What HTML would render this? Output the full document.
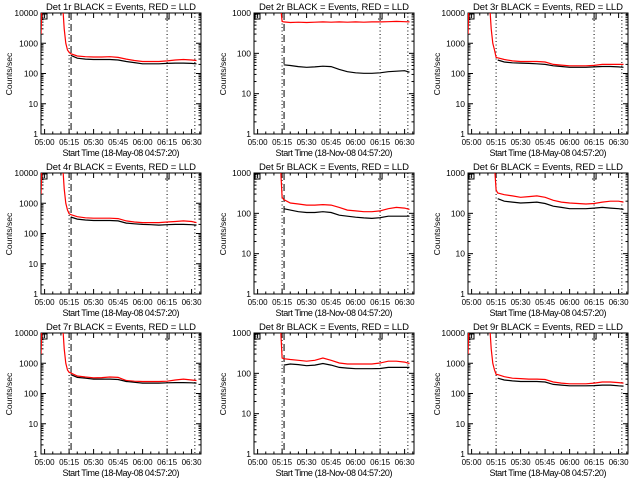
<!DOCTYPE html>
<html><head><meta charset="utf-8"><style>
html,body{margin:0;padding:0;background:#fff;}
svg{display:block;font-family:"Liberation Sans",sans-serif;}
</style></head><body>
<svg id="c" width="640" height="480" viewBox="0 0 640 480"></svg>
<script>
const times = [15,16,20,25,30,35,40,45,50,55,60,65,70,75,80,85,90,93];
const leadTimes = [-2.2,-1.6,11,12,13,14];
const detectorNames = ["1r","2r","3r","4r","5r","6r","7r","8r","9r"];
const dateLabels = ["18-May-08","18-Nov-08","18-May-08","18-May-08","18-Nov-08","18-May-08","18-May-08","18-Nov-08","18-May-08"];
const decades = [4,3,4,4,3,3,4,3,4];
const leadRed4 = [2000,20000,20000,3000,1000,600];
const leadRed3 = [20000,20000,20000,20000,20000,1500];
const red1 = [500,450,380,360,350,350,360,340,300,270,250,250,250,260,280,290,280,270];
const black1 = [400,320,300,290,290,290,280,250,230,210,210,210,215,220,220,215,210];
const red2 = [620,600,580,590,580,590,600,590,600,590,600,590,600,600,610,620,610,600];
const black2 = [52,50,47,45,46,48,47,40,35,33,32,32,33,35,36,37,34];
const red3 = [340,330,290,260,250,250,250,240,200,190,180,180,180,185,200,200,200,200];
const black3 = [280,240,225,220,215,210,200,180,170,160,160,160,165,170,170,165,160];
const red4 = [450,420,360,330,320,320,320,310,260,240,230,230,230,240,250,260,250,230];
const black4 = [350,300,280,270,270,270,260,220,210,200,195,190,195,200,200,195,190];
const red5 = [250,220,180,170,160,160,165,160,140,120,115,110,110,115,130,140,135,125];
const black5 = [130,120,110,105,105,110,105,90,85,80,77,75,78,85,85,85,85];
const red6 = [380,320,290,270,250,260,270,250,210,190,180,175,170,175,190,200,200,190];
const black6 = [230,200,190,180,185,190,175,150,140,130,130,130,135,140,135,130,125];
const red7 = [500,480,380,350,330,335,350,340,270,255,250,250,250,255,280,300,280,270];
const black7 = [420,340,320,300,300,300,290,250,235,220,220,220,225,230,230,225,220];
const red8 = [240,230,220,210,200,210,240,210,180,170,170,170,170,180,200,200,190,175];
const black8 = [160,170,165,155,160,175,160,140,135,130,130,130,132,140,140,140,140];
const red9 = [430,420,360,320,310,300,300,290,240,220,210,210,210,220,240,240,230,220];
const black9 = [320,280,260,250,250,250,240,200,190,180,180,180,182,190,190,180,175];
const xTickLabels = ["05:00","05:15","05:30","05:45","06:00","06:15","06:30"];
const xTickMinutes = [0,15,30,45,60,75,90];
const markerMinutes = [15,16.2,75,92];

const reds=[red1,red2,red3,red4,red5,red6,red7,red8,red9];
const blacks=[black1,black2,black3,black4,black5,black6,black7,black8,black9];
const NS="http://www.w3.org/2000/svg";
const svg=document.getElementById('c');
function mk(tag,attrs,parent){const e=document.createElementNS(NS,tag);for(const k in attrs)e.setAttribute(k,attrs[k]);(parent||svg).appendChild(e);return e;}
const L=41,R=201,T=13,B=134;
const colX=[0,213,427],rowY=[0,160,320];
const defs=mk('defs',{});
const cp=mk('clipPath',{id:'plotclip'},defs);
mk('rect',{x:L,y:T,width:R-L,height:B-T},cp);
function xs(t){return L+(t+2.2)*(24.5/15);}
for(let p=0;p<9;p++){
  const ox=colX[p%3],oy=rowY[Math.floor(p/3)],dec=decades[p];
  const ys=v=>B-Math.log10(v)*(B-T)/dec;
  const g=mk('g',{transform:`translate(${ox},${oy})`});
  
  
  const frame=mk('rect',{x:L,y:T,width:R-L,height:B-T,fill:'none',stroke:'#000','stroke-width':1},g);
  
  
  for(let d=0;d<=dec;d++){
    const y=B-d*(B-T)/dec;
    mk('line',{x1:L,x2:L+5,y1:y,y2:y,stroke:'#000'},g);
    mk('line',{x1:R-5,x2:R,y1:y,y2:y,stroke:'#000'},g);
    const lab=mk('text',{x:L-3,y:y+3,'text-anchor':'end','font-size':8.5},g);
    lab.textContent=String(Math.pow(10,d));
    
    
    if(d<dec)for(let m=2;m<10;m++){
      const ym=ys(Math.pow(10,d)*m);
      mk('line',{x1:L,x2:L+2.5,y1:ym,y2:ym,stroke:'#000'},g);
      mk('line',{x1:R-2.5,x2:R,y1:ym,y2:ym,stroke:'#000'},g);
    }
  }
  for(let m=0;m<=95;m+=5){
    const x=xs(m),major=m%15===0;
    mk('line',{x1:x,x2:x,y1:B,y2:B-(major?5:2.5),stroke:'#000'},g);
    mk('line',{x1:x,x2:x,y1:T,y2:T+(major?5:2.5),stroke:'#000'},g);
  }
  xTickMinutes.forEach((m,i)=>{
    const t=mk('text',{x:xs(m),y:B+11,'text-anchor':'middle','font-size':8},g);
    t.textContent=xTickLabels[i];
    
    
  });
  const xt=mk('text',{x:121,y:B+22,'text-anchor':'middle','font-size':9,textLength:117},g);
  xt.textContent='Start Time ('+dateLabels[p]+' 04:57:20)';
  
  
  const tt=mk('text',{x:121,y:10,'text-anchor':'middle','font-size':9.5,textLength:150},g);
  tt.textContent='Det '+detectorNames[p]+' BLACK = Events, RED = LLD';
  
  
  const yt=mk('text',{x:0,y:0,'text-anchor':'middle','font-size':8.5,transform:`translate(${p%3===0?12:13},74) rotate(-90)`},g);
  yt.textContent='Counts/sec';
  
  
  markerMinutes.forEach((m,i)=>{
    if(i===1&&p%3===2)return;
    const ln=mk('line',{x1:xs(m),x2:xs(m),y1:T,y2:B,stroke:'#000','stroke-dasharray':i===1?'7,4':'1,2.5'},g);
    
    
  });
  mk('path',{d:`M${L+1} ${T+1}h5v5h-5z`,fill:'none',stroke:'#000'},g);
  mk('path',{d:`M${xs(75)+12} ${T}h-10v6h-4`,fill:'none',stroke:'#000'},g);
  const sg=mk('g',{'clip-path':'url(#plotclip)'},g);
  const lead=dec===4?leadRed4:leadRed3;
  const rt=leadTimes.concat(times), rv=lead.concat(reds[p]);
  const rpts=rt.map((t,i)=>xs(t).toFixed(1)+','+ys(rv[i]).toFixed(1)).join(' ');
  const rl=mk('polyline',{points:rpts,fill:'none',stroke:'#f00','stroke-width':1.2},sg);
  
  
  const bt=times.slice(1);
  const bpts=bt.map((t,i)=>xs(t).toFixed(1)+','+ys(blacks[p][i]).toFixed(1)).join(' ');
  const bl=mk('polyline',{points:bpts,fill:'none',stroke:'#000','stroke-width':1.2},sg);
  
  
}
</script>
</body></html>
